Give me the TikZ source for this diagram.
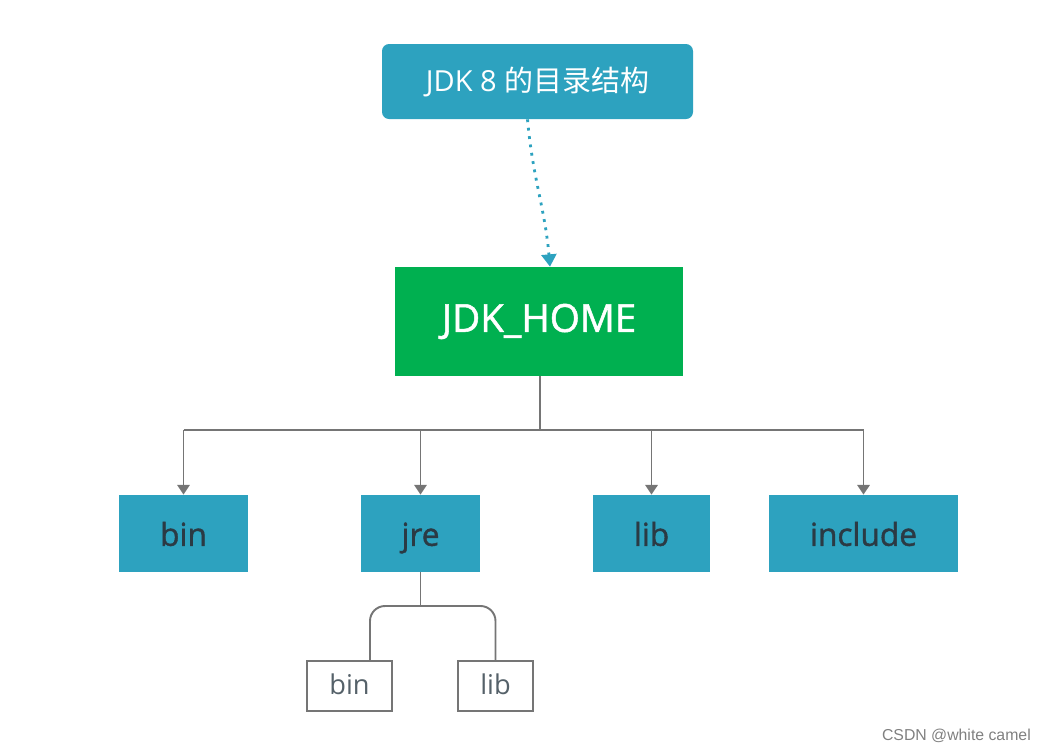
\documentclass[tikz,border=0pt]{standalone}
\usepackage{fontspec}
\setmainfont{Open Sans}
\newfontfamily\semifont{Open Sans}[FakeBold=1.3]
\newfontfamily\cjkfont{Noto Sans CJK SC}
\newfontfamily\markfont{Liberation Sans}
\usetikzlibrary{arrows.meta}
\definecolor{boxblue}{HTML}{2DA2BF}
\definecolor{homegreen}{HTML}{00B050}
\definecolor{treegray}{HTML}{757575}
\definecolor{textdark}{HTML}{2B3A44}

\begin{document}
\begin{tikzpicture}[x=0.02cm,y=-0.02cm,
  dirbox/.style n args={2}{fill=boxblue,minimum width=#1*0.02cm,minimum height=#2*0.02cm,inner sep=0pt,text height=14pt,text depth=0pt,text=textdark,font=\semifont\fontsize{18}{22}\selectfont},
  subbox/.style n args={2}{draw=treegray,line width=0.8pt,fill=white,minimum width=#1*0.02cm,minimum height=#2*0.02cm,inner sep=0pt,text height=10pt,text depth=0pt,text=textdark!80,font=\fontsize{15.5}{19}\selectfont},
  tree/.style={draw=treegray,line width=1.1pt},
  down/.style={tree,-{Triangle[width=7pt,length=5.5pt]}}]
\useasboundingbox (0,0) rectangle (1052,752);
% title and root
\node[fill=boxblue,rounded corners=4pt,minimum width=311*0.02cm,minimum height=75*0.02cm,text=white,font=\fontsize{16.5}{20}\selectfont] (title) at (537.5,81.5) {JDK 8 {\cjkfont 的目录结构}};
\node[fill=homegreen,minimum width=288*0.02cm,minimum height=109*0.02cm,text=white,font=\semifont\fontsize{22}{26}\selectfont] (home) at (539,321.5) {JDK\_HOME};
\draw[boxblue,line width=1.6pt,dash pattern=on 1.6pt off 3.2pt,-{Triangle[width=8.5pt,length=7pt]}] ([xshift=-0.2cm]title.south) to[out=-85,in=95] ([xshift=0.22cm]home.north);
% first level
\coordinate (bus) at (540,430);
\draw[tree] (home.south -| bus) -- (bus);
\foreach \nm/\x/\w in {bin/183.5/129,jre/420.5/119,lib/651.5/117,include/863.5/189} {
  \node[dirbox={\w}{77}] (\nm) at (\x,533.5) {\nm};
  \draw[down] (bus -| \nm.north) -- (\nm.north);
}
\draw[tree] (bus -| bin.north) -- (bus -| include.north);
% jre content
\node[subbox={85}{50}] (jrebin) at (349.5,686) {bin};
\node[subbox={75}{50}] (jrelib) at (495.5,686) {lib};
\coordinate (fork) at (420.5,606);
\draw[tree] (jre.south) -- (fork);
\draw[tree,rounded corners=0.3cm] ([xshift=0.41cm]jrebin.north) |- (fork) -| (jrelib.north);
% watermark
\node[text=gray,font=\markfont\fontsize{9}{11}\selectfont,anchor=east] (mark) at (1037,736) {CSDN @white camel};
\end{tikzpicture}
\end{document}
